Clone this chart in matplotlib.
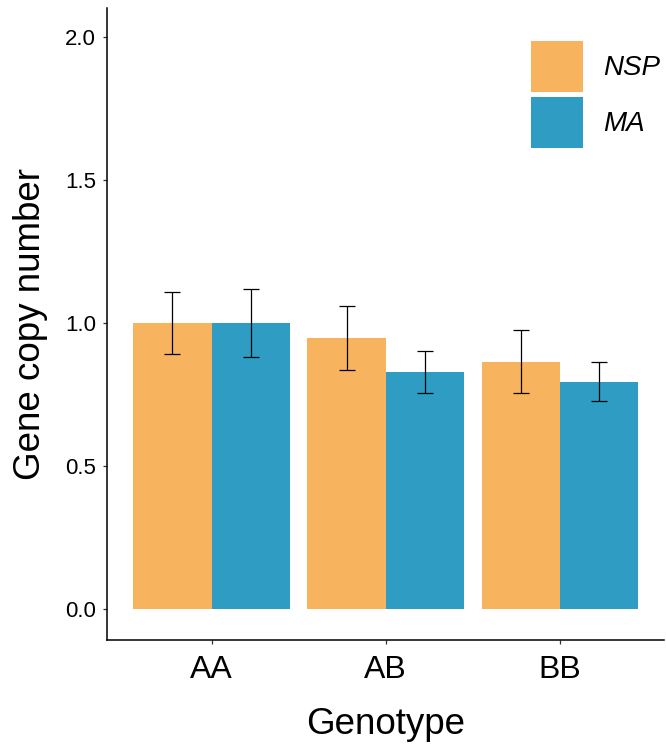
import numpy as np
import matplotlib.pyplot as plt

plt.rcParams['font.family'] = ['Liberation Sans', 'DejaVu Sans']

genotypes = ['AA', 'AB', 'BB']
nsp_mean = [1.0, 0.948, 0.864]
nsp_err = [0.11, 0.112, 0.11]
ma_mean = [1.0, 0.829, 0.794]
ma_err = [0.118, 0.072, 0.068]

c_nsp = '#F8B35E'
c_ma = '#2F9CC4'

fig = plt.figure(figsize=(6.66, 7.44), dpi=100)
ax = fig.add_axes([0.1607, 0.1398, 0.837, 0.849])

x = np.arange(1, len(genotypes) + 1)
w = 0.45
ek = dict(ecolor='black', elinewidth=0.9, capsize=6, capthick=0.9)
ax.bar(x - w/2, nsp_mean, w, color=c_nsp, label='NSP')
ax.bar(x + w/2, ma_mean, w, color=c_ma, label='MA')
ax.errorbar(x - w/2, nsp_mean, yerr=nsp_err, fmt='none', **ek)
ax.errorbar(x + w/2, ma_mean, yerr=ma_err, fmt='none', **ek)

ax.set_xlim(0.4, 3.6)
ax.set_ylim(-0.108, 2.10)
ax.set_xticks(x)
ax.set_xticklabels(genotypes, fontsize=23)
ax.set_yticks([0, 0.5, 1.0, 1.5, 2.0])
ax.set_yticklabels(['0.0', '0.5', '1.0', '1.5', '2.0'], fontsize=16)
ax.tick_params(length=3, width=0.9, color='#333333')
ax.tick_params(axis='x', pad=8)
ax.tick_params(axis='y', pad=5)
for s in ['top', 'right']:
    ax.spines[s].set_visible(False)
for s in ['left', 'bottom']:
    ax.spines[s].set_linewidth(1.1)

ax.set_xlabel('Genotype', fontsize=26.5, labelpad=16)
ax.set_ylabel('Gene copy number', fontsize=26.5, labelpad=12)

leg = ax.legend(loc='upper left', bbox_to_anchor=(0.797, 0.945),
                bbox_transform=fig.transFigure, frameon=False,
                prop={'size': 20, 'style': 'italic'},
                handlelength=1.87, handleheight=2.45, labelspacing=0.18,
                handletextpad=0.72, borderpad=0, borderaxespad=0)

fig.savefig('out.png', dpi=100)
